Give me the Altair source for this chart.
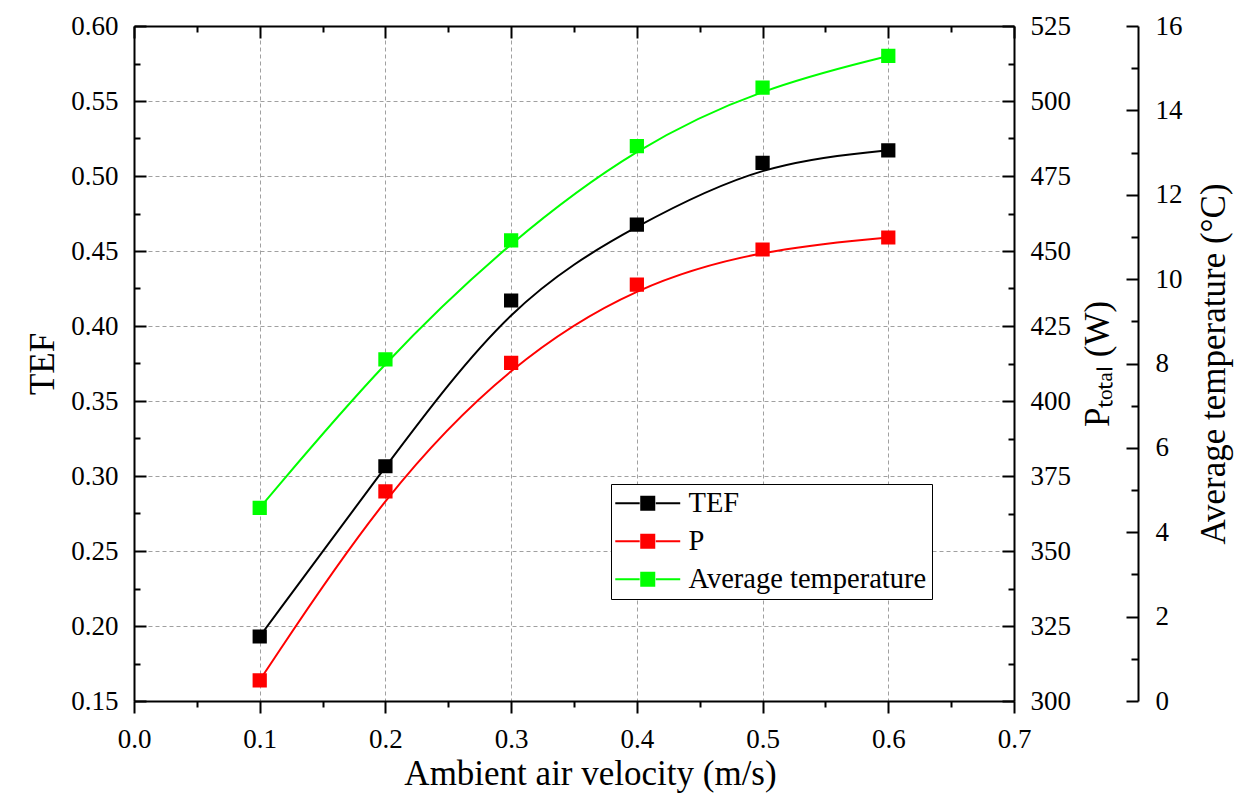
import altair as alt
import pandas as pd

# ---- data ----
velocity = [0.1, 0.2, 0.3, 0.4, 0.5, 0.6]
tef = [0.193, 0.3065, 0.417, 0.4676, 0.5087, 0.5171]
p_total = [306.9, 369.9, 412.7, 438.8, 450.5, 454.5]
avg_temp = [4.58, 8.10, 10.92, 13.15, 14.54, 15.29]

series_names = ["TEF", "P", "Average temperature"]
series_colors = ["#000000", "#ff0000", "#00ff00"]

# ---- tick values ----
x_major = [0.0, 0.1, 0.2, 0.3, 0.4, 0.5, 0.6, 0.7]
x_minor = [0.05, 0.15, 0.25, 0.35, 0.45, 0.55, 0.65]
tef_major = [0.15, 0.20, 0.25, 0.30, 0.35, 0.40, 0.45, 0.50, 0.55, 0.60]
tef_minor = [0.175, 0.225, 0.275, 0.325, 0.375, 0.425, 0.475, 0.525, 0.575]
p_major = [300, 325, 350, 375, 400, 425, 450, 475, 500, 525]
p_minor = [312.5, 337.5, 362.5, 387.5, 412.5, 437.5, 462.5, 487.5, 512.5]
t_major = [0, 2, 4, 6, 8, 10, 12, 14, 16]
t_minor = [1, 3, 5, 7, 9, 11, 13, 15]

df = pd.DataFrame({"v": velocity, "TEF": tef, "P": p_total, "T": avg_temp})

FONT = "Liberation Serif"
X_SCALE = alt.Scale(domain=[0, 0.7], nice=False, zero=False)
TEF_SCALE = alt.Scale(domain=[0.15, 0.60], nice=False, zero=False)
P_SCALE = alt.Scale(domain=[300, 525], nice=False, zero=False)
T_SCALE = alt.Scale(domain=[0, 16], nice=False, zero=False)
COLOR_SCALE = alt.Scale(domain=series_names, range=series_colors)

LEG = alt.Legend(
    title=None,
    orient="none",
    legendX=477,
    legendY=458,
    fillColor="white",
    strokeColor="black",
    padding=5,
    rowPadding=9,
    symbolOffset=17.5,
    labelOffset=26.5,
    labelLimit=500,
    labelFont=FONT,
    labelFontSize=28.5,
    labelColor="black",
    symbolType="M-4.64,0H-1.15M1.15,0H4.64M-0.93,-0.93H0.93V0.93H-0.93Z",
    symbolSize=196,
    symbolStrokeWidth=2,
    symbolOpacity=1,
)


def neg(n):
    return alt.ExprRef(expr=str(-n))


def minor_axis(orient, values, size, offset=0):
    return alt.Axis(
        orient=orient, values=values, labels=False, domain=False, grid=False,
        ticks=True, tickSize=size, title=None, offset=offset,
    )


base = alt.Chart(df)

tef_line = base.mark_line(interpolate="basis", strokeWidth=2, color=series_colors[0]).encode(
    x=alt.X("v:Q", scale=X_SCALE, axis=alt.Axis(
        orient="bottom", values=x_major, format=".1f", grid=True, tickSize=12,
        labelPadding=13, title="Ambient air velocity (m/s)", titlePadding=4, titleX=456)),
    y=alt.Y("TEF:Q", scale=TEF_SCALE, axis=alt.Axis(
        orient="left", values=tef_major, format=".2f", grid=True, tickSize=neg(12),
        labelPadding=28, title="TEF", titlePadding=10)),
)

tef_pts = base.transform_calculate(series="'TEF'").mark_point(
    shape="square", filled=True, size=150, strokeWidth=2, opacity=1).encode(
    x=alt.X("v:Q", scale=X_SCALE, axis=minor_axis("bottom", x_minor, 6)),
    y=alt.Y("TEF:Q", scale=TEF_SCALE, axis=minor_axis("left", tef_minor, neg(6))),
    fill=alt.Fill("series:N", scale=COLOR_SCALE, legend=LEG),
    stroke=alt.Stroke("series:N", scale=COLOR_SCALE, legend=LEG),
)

p_line = base.mark_line(interpolate="basis", strokeWidth=2, color=series_colors[1]).encode(
    x=alt.X("v:Q", scale=X_SCALE, axis=alt.Axis(
        orient="top", values=x_major, labels=False, grid=False, tickSize=neg(12), title=None)),
    y=alt.Y("P:Q", scale=P_SCALE, axis=alt.Axis(
        orient="right", values=p_major, format="d", grid=False, tickSize=neg(12),
        labelPadding=28, title="P\u209c\u2092\u209c\u2090\u2097 (W)", titleAngle=270,
        titleBaseline="top", titlePadding=10)),
)

p_pts = base.transform_calculate(series="'P'").mark_point(
    shape="square", filled=True, size=150, strokeWidth=2, opacity=1).encode(
    x=alt.X("v:Q", scale=X_SCALE, axis=minor_axis("top", x_minor, neg(6))),
    y=alt.Y("P:Q", scale=P_SCALE, axis=minor_axis("right", p_minor, neg(6))),
    fill=alt.Fill("series:N", scale=COLOR_SCALE, legend=LEG),
    stroke=alt.Stroke("series:N", scale=COLOR_SCALE, legend=LEG),
)

t_line = base.mark_line(interpolate="basis", strokeWidth=2, color=series_colors[2]).encode(
    x=alt.X("v:Q", scale=X_SCALE, axis=None),
    y=alt.Y("T:Q", scale=T_SCALE, axis=alt.Axis(
        orient="right", offset=124, values=t_major, format="d", grid=False,
        tickSize=neg(12), labelPadding=29, title="Average temperature (\u00b0C)",
        titleAngle=270, titleBaseline="top", titlePadding=14)),
)

t_pts = base.transform_calculate(series="'Average temperature'").mark_point(
    shape="square", filled=True, size=150, strokeWidth=2, opacity=1).encode(
    x=alt.X("v:Q", scale=X_SCALE, axis=None),
    y=alt.Y("T:Q", scale=T_SCALE, axis=minor_axis("right", t_minor, neg(7), offset=124)),
    fill=alt.Fill("series:N", scale=COLOR_SCALE, legend=LEG),
    stroke=alt.Stroke("series:N", scale=COLOR_SCALE, legend=LEG),
)

chart = (
    alt.layer(tef_line, tef_pts, p_line, p_pts, t_line, t_pts)
    .resolve_scale(y="independent")
    .resolve_axis(x="independent", y="independent")
    .properties(
        width=880, height=675,
        autosize=alt.AutoSizeParams(type="none"),
        padding={"left": 134, "top": 26, "right": 227, "bottom": 92},
        background="white",
    )
    .configure_axis(
        labelFont=FONT, labelFontSize=27, labelColor="black",
        titleFont=FONT, titleFontSize=35, titleFontWeight="normal", titleColor="black",
        domainColor="black", domainWidth=2, tickColor="black", tickWidth=2,
        gridColor="#a0a0a0", gridDash=[4, 3], gridWidth=1,
        labelFlush=False, labelOverlap=False,
    )
    .configure_view(stroke=None)
)

chart.save("out.html", embed_options={"renderer": "svg", "actions": False})
